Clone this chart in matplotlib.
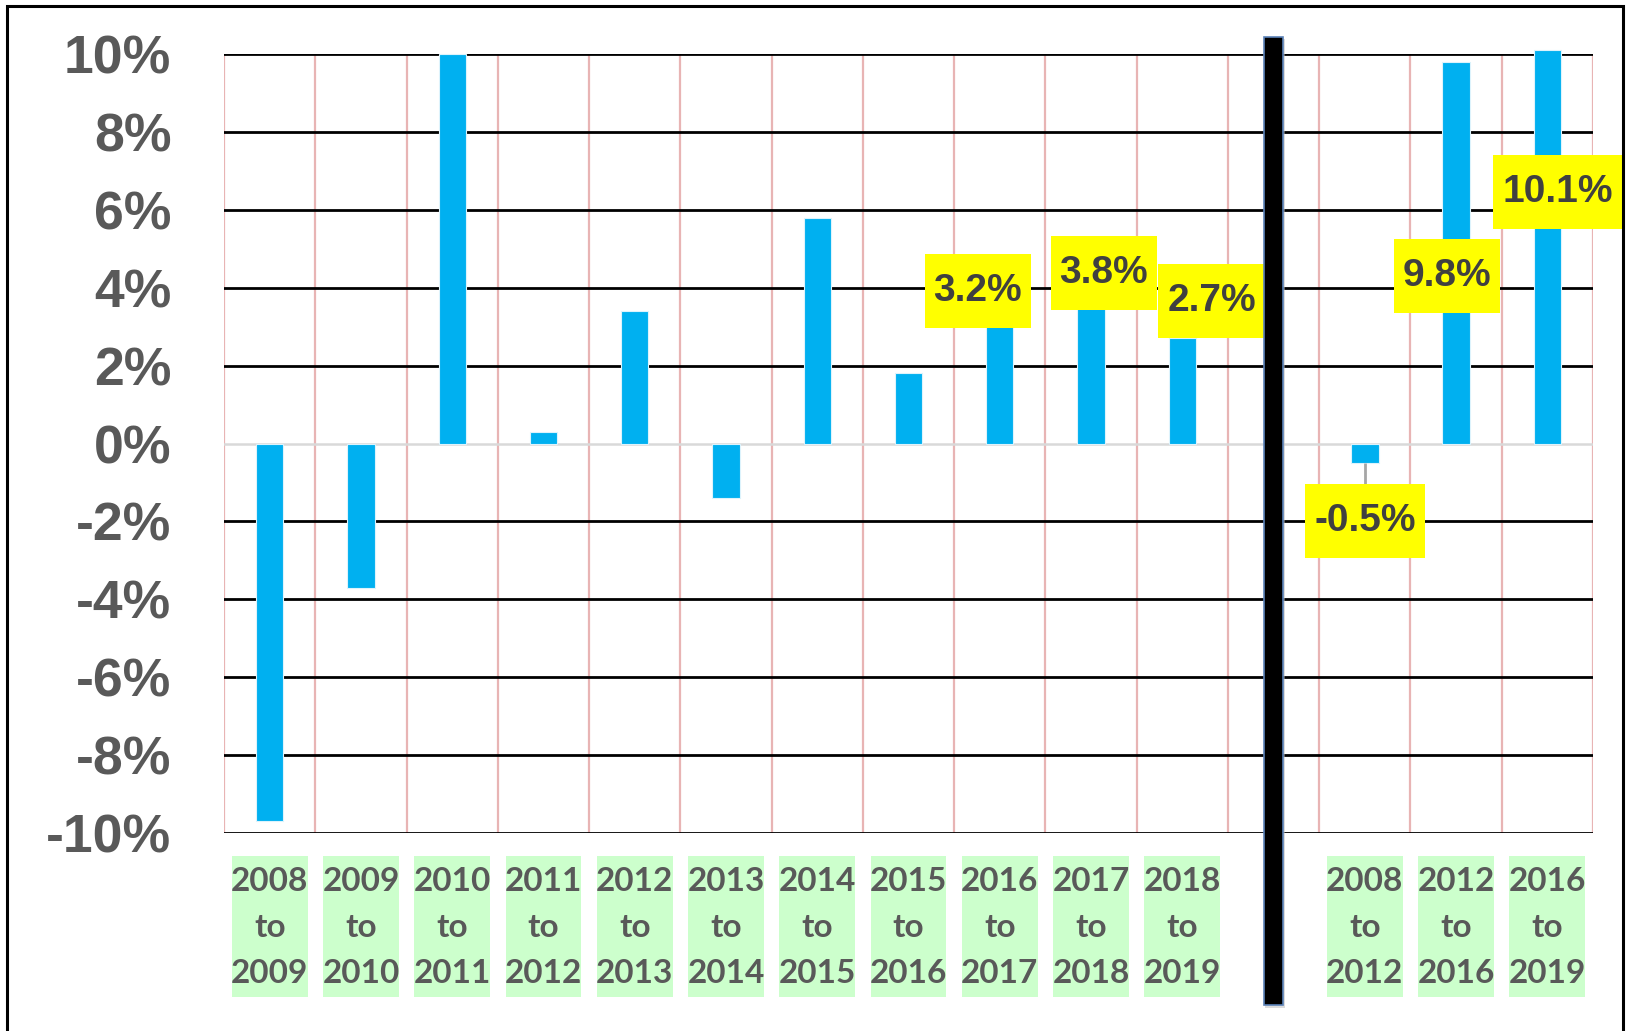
import matplotlib
matplotlib.use("Agg")
import matplotlib.pyplot as plt
from matplotlib.patches import Rectangle

plt.rcParams["font.family"] = ["Liberation Sans", "DejaVu Sans"]

# annual change, one bar per year pair
periods = ["2008\nto\n2009", "2009\nto\n2010", "2010\nto\n2011", "2011\nto\n2012",
           "2012\nto\n2013", "2013\nto\n2014", "2014\nto\n2015", "2015\nto\n2016",
           "2016\nto\n2017", "2017\nto\n2018", "2018\nto\n2019"]
changes = [-9.7, -3.7, 10.0, 0.3, 3.4, -1.4, 5.8, 1.8, 3.2, 3.8, 2.7]

# multi-year spans, shown to the right of the divider
span_periods = ["2008\nto\n2012", "2012\nto\n2016", "2016\nto\n2019"]
span_changes = [-0.5, 9.8, 10.1]

y_ticks = list(range(-10, 11, 2))

# bars that get a yellow value box: slot -> (x shift in slots, box centre in %)
callouts = {8: (-0.24, 3.91), 9: (0.14, 4.37), 10: (0.32, 3.65),
            12: (0.0, -1.99), 13: (-0.10, 4.29), 14: (0.11, 6.45)}

BAR_BLUE = "#00B0F0"
GRID_PINK = "#E8B4B4"
TEXT_GREY = "#595959"

labels = periods + span_periods
values = changes + span_changes
# leave one empty slot for the divider between the two groups
slots = list(range(len(periods))) + [len(periods) + 1 + i for i in range(len(span_periods))]
gap = len(periods)
n_slots = len(slots) + 1

fig = plt.figure(figsize=(16.26, 10.31), dpi=100)
ax = fig.add_axes([0.1378, 0.1920, 0.8419, 0.7556])

ax.set_xlim(-0.5, n_slots - 0.5)
ax.set_ylim(-10, 10)
for s in ax.spines.values():
    s.set_visible(False)

for b in range(n_slots + 1):
    ax.axvline(b - 0.5, color=GRID_PINK, lw=1.6, zorder=1)
for t in y_ticks:
    if t == 0:
        ax.axhline(t, color="#D9D9D9", lw=1.8, zorder=1.5)
    else:
        ax.axhline(t, color="black", lw=2.0, zorder=1.5)

ax.bar(slots, values, width=0.30, color=BAR_BLUE, edgecolor="#DDF3FC",
       linewidth=0.8, zorder=3, clip_on=False)

ax.set_xticks([])
ax.set_yticks(y_ticks)
ax.set_yticklabels([f"{t}%" for t in y_ticks], fontsize=38.5, fontweight="bold",
                   color=TEXT_GREY)
ax.tick_params(axis="y", length=0, pad=38)

xtrans = ax.get_xaxis_transform()
for s, lab in zip(slots, labels):
    ax.add_patch(Rectangle((s - 0.415, -0.2105), 0.83, 0.181, transform=xtrans,
                           facecolor="#CCFFCC", edgecolor="none", clip_on=False,
                           zorder=2))
    ax.text(s, -0.121, lab, transform=xtrans, ha="center", va="center",
            multialignment="center", fontsize=24, fontweight="bold",
            family=["Lato", "DejaVu Sans"], color=TEXT_GREY, linespacing=1.72,
            zorder=4)

value_texts = []
for i, s in enumerate(slots):
    if s not in callouts:
        continue
    dx, ypos = callouts[s]
    v = values[i]
    if v < 0:
        # short leader line from the bar end down to its box
        ax.plot([s, s], [v, ypos + 0.95], color="#A6A6A6", lw=2, zorder=3,
                solid_capstyle="butt")
    value_texts.append(ax.text(s + dx, ypos, f"{v:.1f}%", ha="center",
                               va="center", fontsize=28, fontweight="bold",
                               color="#404040", zorder=6))

# yellow boxes sized from the rendered text: a little side padding, fixed height
fig.canvas.draw()
renderer = fig.canvas.get_renderer()
for t in value_texts:
    bb = t.get_window_extent(renderer)
    cy = (bb.y0 + bb.y1) / 2
    ax.add_patch(Rectangle((bb.x0 - 9, cy - 37), bb.width + 18, 74,
                           transform=None, facecolor="#FFFF00",
                           edgecolor="none", zorder=5, clip_on=False))

# thick black divider between the annual and the multi-year bars
ax.add_patch(Rectangle((gap - 0.09, -0.2247), 0.218, 1.2440, transform=xtrans,
                       facecolor="#BBBBBB", edgecolor="none", alpha=0.5,
                       clip_on=False, zorder=6))
ax.add_patch(Rectangle((gap - 0.11, -0.2207), 0.218, 1.2420, transform=xtrans,
                       facecolor="black", edgecolor="#5B82B8", lw=1.2,
                       clip_on=False, zorder=7))

# frame around the whole chart
fig.add_artist(Rectangle((7 / 1626, -0.05), 1616 / 1626, 1.05 - 6 / 1031,
                         transform=fig.transFigure, fill=False,
                         edgecolor="black", lw=2.2))

fig.savefig("out.png", dpi=100)
